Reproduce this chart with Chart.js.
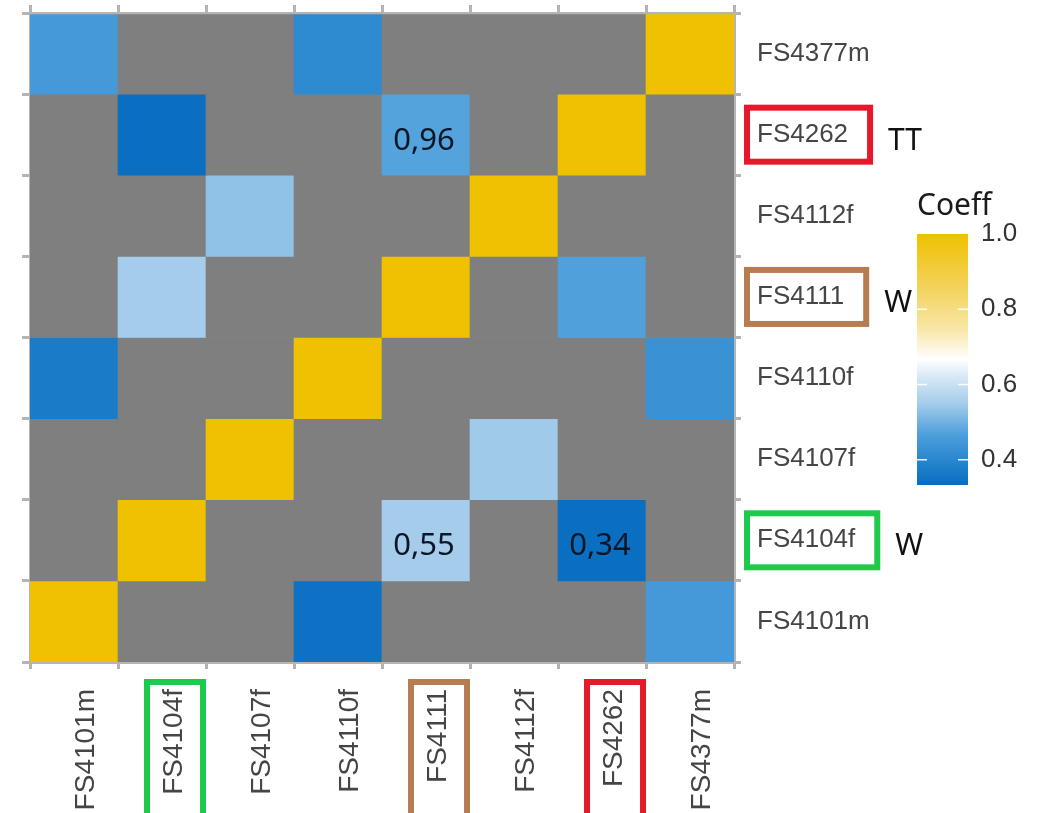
<!DOCTYPE html>
<html>
<head>
<meta charset="utf-8">
<script src="https://cdn.jsdelivr.net/npm/chart.js@4.4.0/dist/chart.umd.min.js"></script>
<style>
  html, body { margin: 0; padding: 0; background: #fff; }
  #wrap { width: 1045px; height: 813px; }
</style>
</head>
<body>
<div id="wrap"><canvas id="heat" width="1045" height="813"></canvas></div>
<script>
// ── data ──────────────────────────────────────────────
var rowLabels = ["FS4377m", "FS4262", "FS4112f", "FS4111", "FS4110f", "FS4107f", "FS4104f", "FS4101m"];
var colLabels = ["FS4101m", "FS4104f", "FS4107f", "FS4110f", "FS4111", "FS4112f", "FS4262", "FS4377m"];

// null = no coefficient (grey cell); rows top -> bottom, cols left -> right
var coeff = [
  [0.45, null, null, 0.41, null, null, null, 1.0 ],
  [null, 0.34, null, null, 0.475, null, 1.0, null],
  [null, null, 0.53, null, null, 1.0, null, null ],
  [null, 0.55, null, null, 1.0, null, 0.47, null ],
  [0.37, null, null, 1.0, null, null, null, 0.43 ],
  [null, null, 1.0, null, null, 0.545, null, null],
  [null, 1.0, null, null, 0.55, null, 0.34, null ],
  [1.0, null, null, 0.345, null, null, null, 0.45]
];

// printed values [row, col, text]
var cellText = [
  ["FS4262", "FS4111", "0,96"],
  ["FS4104f", "FS4111", "0,55"],
  ["FS4104f", "FS4262", "0,34"]
];

// boxed labels [label, colour, tag]
var marked = [
  ["FS4262", "#e6192b", "TT"],
  ["FS4111", "#b87c53", "W"],
  ["FS4104f", "#1ec94b", "W"]
];

var legendTicks = [0.4, 0.6, 0.8, 1.0];
var coeffMin = 0.333, coeffMax = 1.0;

// ── colour scale ─────────────────────────────────────
var GREY = "#7f7f7f";
var LINE = "#b4b4b4";
var stops = [
  [0.333, [8, 108, 192]],
  [0.40,  [40, 135, 206]],
  [0.47,  [80, 160, 220]],
  [0.55,  [165, 205, 235]],
  [0.62,  [215, 232, 246]],
  [0.667, [255, 255, 255]],
  [0.75,  [248, 230, 165]],
  [0.86,  [243, 210, 90]],
  [1.0,   [239, 193, 0]]
];

function colorFor(v) {
  if (v <= stops[0][0]) return rgb(stops[0][1]);
  for (var i = 1; i < stops.length; i++) {
    if (v <= stops[i][0]) {
      var a = stops[i - 1], b = stops[i];
      var t = (v - a[0]) / (b[0] - a[0]);
      return rgb([0, 1, 2].map(function(k) { return a[1][k] + (b[1][k] - a[1][k]) * t; }));
    }
  }
  return rgb(stops[stops.length - 1][1]);
}
function rgb(c) { return "rgb(" + c.map(function(x) { return Math.round(x); }).join(",") + ")"; }

// ── datasets: one floating-bar row per y label ───────
var datasets = rowLabels.map(function(name, r) {
  return {
    label: name,
    data: colLabels.map(function() { return [r, r + 1]; }),
    backgroundColor: coeff[r].map(function(v) { return v == null ? GREY : colorFor(v); }),
    borderWidth: 0,
    grouped: false,
    barPercentage: 1,
    categoryPercentage: 1
  };
});

// ── extras: printed values, boxes, tags, colourbar ───
var extras = {
  id: "extras",
  afterDraw: function(chart) {
    var ctx = chart.ctx, area = chart.chartArea;
    var xs = chart.scales.x, yr = chart.scales.yR;
    ctx.save();

    // values in cells
    ctx.font = '31px "Noto Sans"';
    ctx.fillStyle = "#0b1726";
    ctx.textAlign = "center";
    ctx.textBaseline = "alphabetic";
    cellText.forEach(function(t) {
      var r = rowLabels.indexOf(t[0]), c = colLabels.indexOf(t[1]);
      ctx.fillText(t[2], xs.getPixelForValue(c) - 2, yr.getPixelForValue(r) + 15);
    });

    // boxes round labels
    ctx.lineWidth = 6;
    marked.forEach(function(m) {
      ctx.strokeStyle = m[1];
      // right side
      var r = rowLabels.indexOf(m[0]);
      var yc = yr.getPixelForValue(r);
      ctx.font = '26px "Liberation Sans"';
      var tw = ctx.measureText(m[0]).width;
      var x0 = area.right + 13, x1 = area.right + 23 + tw + 22;
      ctx.strokeRect(x0, yc - 27, x1 - x0, 54);
      // tag
      ctx.font = '30px "Noto Sans"';
      ctx.fillStyle = "#111";
      ctx.textAlign = "left";
      ctx.fillText(m[2], x1 + 18, yc + 15);
      // bottom
      var c = colLabels.indexOf(m[0]);
      var xc = xs.getPixelForValue(c) + 13;
      ctx.strokeRect(xc - 28, area.bottom + 20, 56, 160);
    });

    // colourbar
    var cbX = 917, cbW = 51, cbTop = 234, cbBot = 485;
    var yOf = function(v) { return cbBot - (v - coeffMin) / (coeffMax - coeffMin) * (cbBot - cbTop); };
    var g = ctx.createLinearGradient(0, cbBot, 0, cbTop);
    stops.forEach(function(s) {
      g.addColorStop((s[0] - coeffMin) / (coeffMax - coeffMin), rgb(s[1]));
    });
    ctx.fillStyle = g;
    ctx.fillRect(cbX, cbTop, cbW, cbBot - cbTop);

    ctx.strokeStyle = "rgba(255,255,255,0.9)";
    ctx.lineWidth = 1.5;
    ctx.font = '26px "Liberation Sans"';
    ctx.fillStyle = "#333";
    ctx.textAlign = "left";
    ctx.textBaseline = "middle";
    legendTicks.forEach(function(v) {
      var y = yOf(v);
      if (v < coeffMax) {
        ctx.beginPath();
        ctx.moveTo(cbX, y); ctx.lineTo(cbX + 10, y);
        ctx.moveTo(cbX + cbW - 10, y); ctx.lineTo(cbX + cbW, y);
        ctx.stroke();
      }
      ctx.fillText(v.toFixed(1), cbX + 64, y);
    });

    ctx.font = '30px "Noto Sans"';
    ctx.fillStyle = "#1a1a1a";
    ctx.textBaseline = "alphabetic";
    ctx.fillText("Coeff", cbX, 215);
    ctx.restore();
  }
};

function noPad(s) { s.paddingTop = 0; s.paddingBottom = 0; s.paddingLeft = 0; s.paddingRight = 0; }

var gridOpts = { color: LINE, lineWidth: 3, tickLength: 7, offset: true };
var borderOpts = { color: LINE, width: 3 };

new Chart(document.getElementById("heat"), {
  type: "bar",
  data: { labels: colLabels, datasets: datasets },
  plugins: [extras],
  options: {
    responsive: false,
    animation: false,
    layout: { padding: 0 },
    plugins: { legend: { display: false }, tooltip: { enabled: false } },
    scales: {
      x: {
        type: "category",
        position: "bottom",
        offset: true,
        z: 1,
        grid: gridOpts,
        border: borderOpts,
        ticks: {
          minRotation: 90, maxRotation: 90,
          padding: 20, labelOffset: 12,
          color: "#454545",
          font: { family: "Liberation Sans", size: 28 }
        },
        afterFit: function(s) { s.height = 151; noPad(s); }
      },
      xTop: {
        type: "category",
        position: "top",
        labels: colLabels,
        offset: true,
        z: 1,
        grid: { color: LINE, lineWidth: 3, tickLength: 8, offset: true, drawOnChartArea: false },
        border: borderOpts,
        ticks: { display: false },
        afterFit: function(s) { s.height = 13; noPad(s); }
      },
      y: {
        type: "linear",
        position: "left",
        min: 0, max: 8,
        reverse: true,
        z: 1,
        grid: { color: LINE, lineWidth: 3, tickLength: 8 },
        border: borderOpts,
        ticks: { stepSize: 1, display: false },
        afterFit: function(s) { s.width = 30; noPad(s); }
      },
      yR: {
        type: "category",
        position: "right",
        labels: rowLabels,
        offset: true,
        z: 1,
        grid: { color: LINE, lineWidth: 3, tickLength: 7, offset: true, drawOnChartArea: false },
        border: borderOpts,
        ticks: {
          padding: 16,
          color: "#454545",
          font: { family: "Liberation Sans", size: 26 }
        },
        afterFit: function(s) { s.width = 311; noPad(s); }
      }
    }
  }
});
</script>
</body>
</html>
